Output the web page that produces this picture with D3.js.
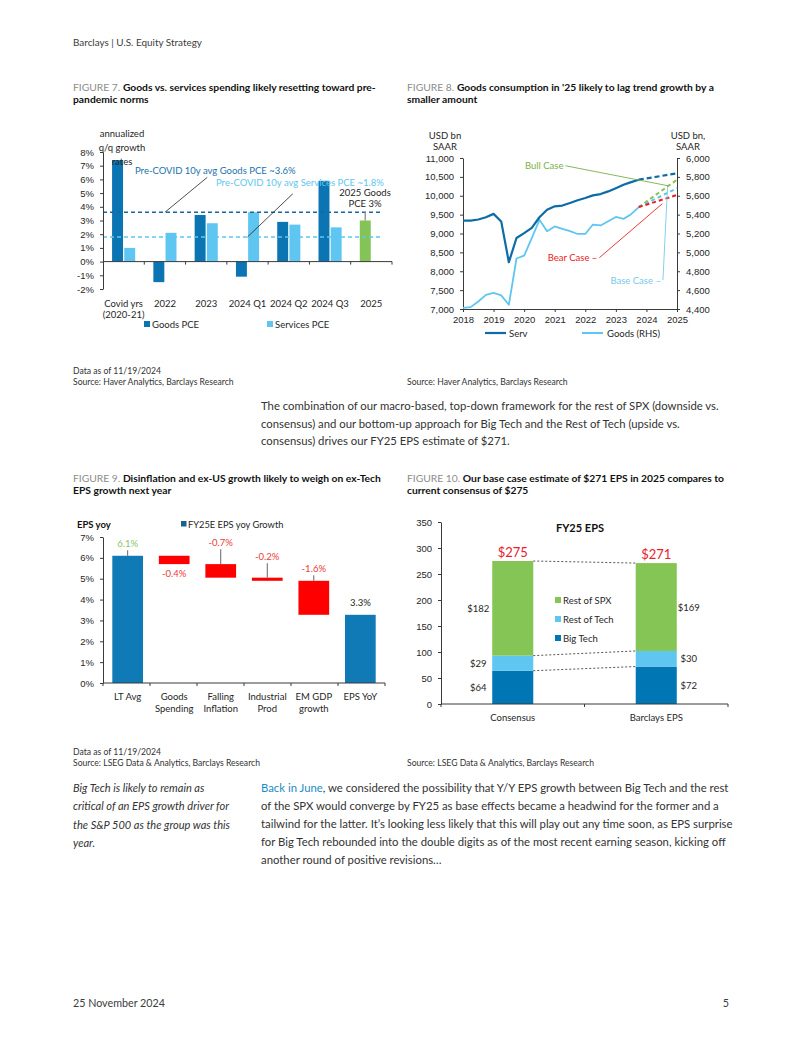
<!DOCTYPE html>
<html><head><meta charset="utf-8">
<script src="https://cdn.jsdelivr.net/npm/d3@7/dist/d3.min.js"></script>
<style>
body{margin:0;background:#fff;}
svg{display:block;font-family:Lato,"Open Sans",sans-serif;}
</style></head><body>
<svg id="page" width="802" height="1037"></svg>
<script>
// ---------------- DATA ----------------
// Figure 7
const fig7Categories = ["Covid yrs|(2020-21)", "2022", "2023", "2024 Q1", "2024 Q2", "2024 Q3", "2025"];
const fig7Goods = [7.4, -1.5, 3.4, -1.1, 2.9, 5.9, 3.0];
const fig7Services = [1.0, 2.1, 2.8, 3.6, 2.7, 2.5, null];
const fig7AvgGoods = 3.6;
const fig7AvgServices = 1.8;
const fig7Ticks = [-2, -1, 0, 1, 2, 3, 4, 5, 6, 7, 8];

// Figure 8 (quarterly, decimal year)
const fig8Time = [2018, 2018.25, 2018.5, 2018.75, 2019, 2019.25, 2019.5, 2019.75,
  2020, 2020.25, 2020.5, 2020.75, 2021, 2021.25, 2021.5, 2021.75,
  2022, 2022.25, 2022.5, 2022.75, 2023, 2023.25, 2023.5, 2023.75];
const fig8Serv = [9340, 9340, 9370, 9430, 9520, 9320, 8240, 8880,
  9010, 9150, 9430, 9630, 9720, 9740, 9810, 9880,
  9940, 10010, 10045, 10115, 10200, 10290, 10360, 10425];
const fig8Goods = [4411, 4420, 4480, 4550, 4570, 4545, 4445, 4935,
  4965, 5150, 5345, 5225, 5275, 5250, 5225, 5195,
  5195, 5295, 5285, 5330, 5375, 5355, 5405, 5480];
const fig8ProjTime = [2023.75, 2025];
const fig8ServProj = [10425, 10595];
const fig8BullProj = [5480, 5770];
const fig8BaseProj = [5480, 5680];
const fig8BearProj = [5480, 5608];
const fig8YearTicks = [2018, 2019, 2020, 2021, 2022, 2023, 2024, 2025];
const fig8LeftTicks = [7000, 7500, 8000, 8500, 9000, 9500, 10000, 10500, 11000];
const fig8RightTicks = [4400, 4600, 4800, 5000, 5200, 5400, 5600, 5800, 6000];

// Figure 9 (waterfall)
const fig9Categories = ["LT Avg", "Goods|Spending", "Falling|Inflation", "Industrial|Prod", "EM GDP|growth", "EPS YoY"];
const fig9From = [0, 6.1, 5.7, 5.05, 4.9, 0];
const fig9To = [6.1, 5.7, 5.05, 4.9, 3.27, 3.27];
const fig9Labels = ["6.1%", "-0.4%", "-0.7%", "-0.2%", "-1.6%", "3.3%"];
const fig9Ticks = [0, 1, 2, 3, 4, 5, 6, 7];

// Figure 10 (stacked)
const fig10Categories = ["Consensus", "Barclays EPS"];
const fig10BigTech = [64, 72];
const fig10RestTech = [29, 30];
const fig10RestSPX = [182, 169];
const fig10Ticks = [0, 50, 100, 150, 200, 250, 300, 350];

// ---------------- STYLE ----------------
const C = {
  dark: "#0b74b2", light: "#5ec6f0", green: "#84c456", red: "#ff1a1a",
  txt: "#262626", axis: "#3a3a3a", gray: "#8a8a8a"
};
const svg = d3.select("#page");
svg.append("rect").attr("width", 802).attr("height", 1037).attr("fill", "#fff");

function fit(str, target, weight = "normal", style = "normal", base = 12) {
  const t = svg.append("text").attr("font-size", base).attr("font-weight", weight)
    .attr("font-style", style).text(str);
  const w = t.node().getComputedTextLength();
  t.remove();
  return base * target / w;
}
function txt(g, x, y, s, o = {}) {
  return g.append("text").attr("x", x).attr("y", y).text(s)
    .attr("font-size", o.size || 9.5).attr("fill", o.fill || C.txt)
    .attr("text-anchor", o.anchor || "start")
    .attr("font-weight", o.weight || "normal")
    .attr("font-style", o.style || "normal");
}

// ---------------- PAGE TEXT ----------------
const headerSize = fit("Barclays | U.S. Equity Strategy", 129);
txt(svg, 73, 45.5, "Barclays | U.S. Equity Strategy", { size: headerSize, fill: "#3c3c3c" });
const footSize = fit("25 November 2024", 92);
txt(svg, 73, 1007, "25 November 2024", { size: footSize, fill: "#3c3c3c" });
txt(svg, 729, 1007, "5", { size: footSize, fill: "#3c3c3c", anchor: "end" });

// title font size from fig 7 first line
function titleWidth(size) {
  const t = svg.append("text").attr("font-size", size);
  t.append("tspan").text("FIGURE 7. ");
  t.append("tspan").attr("font-weight", "bold").text("Goods vs. services spending likely resetting toward pre-");
  const w = t.node().getComputedTextLength(); t.remove(); return w;
}
const titleSize = 12 * 303 / titleWidth(12);
function title(x, y, fig, l1, l2) {
  const t = svg.append("text").attr("x", x).attr("y", y).attr("font-size", titleSize).attr("fill", "#111");
  t.append("tspan").attr("fill", "#8c8c8c").text(fig + " ");
  t.append("tspan").attr("font-weight", "bold").text(l1);
  txt(svg, x, y + 12.8, l2, { size: titleSize, weight: "bold", fill: "#111" });
}
title(73, 90.5, "FIGURE 7.", "Goods vs. services spending likely resetting toward pre-", "pandemic norms");
title(407, 90.5, "FIGURE 8.", "Goods consumption in '25 likely to lag trend growth by a", "smaller amount");
title(73, 481.5, "FIGURE 9.", "Disinflation and ex-US growth likely to weigh on ex-Tech", "EPS growth next year");
title(407, 481.5, "FIGURE 10.", "Our base case estimate of $271 EPS in 2025 compares to", "current consensus of $275");

const noteSize = fit("Source: Haver Analytics, Barclays Research", 161);
txt(svg, 73, 374, "Data as of 11/19/2024", { size: noteSize, fill: "#333" });
txt(svg, 73, 385, "Source: Haver Analytics, Barclays Research", { size: noteSize, fill: "#333" });
txt(svg, 407, 385, "Source: Haver Analytics, Barclays Research", { size: noteSize, fill: "#333" });
txt(svg, 73, 754.5, "Data as of 11/19/2024", { size: noteSize, fill: "#333" });
txt(svg, 73, 766, "Source: LSEG Data & Analytics, Barclays Research", { size: noteSize, fill: "#333" });
txt(svg, 407, 766, "Source: LSEG Data & Analytics, Barclays Research", { size: noteSize, fill: "#333" });

const bodySize = fit("The combination of our macro-based, top-down framework for the rest of SPX (downside vs.", 458);
const body1 = ["The combination of our macro-based, top-down framework for the rest of SPX (downside vs.",
  "consensus) and our bottom-up approach for Big Tech and the Rest of Tech (upside vs.",
  "consensus) drives our FY25 EPS estimate of $271."];
body1.forEach((s, i) => txt(svg, 261, 410 + i * 17.6, s, { size: bodySize, fill: "#333" }));

const body2 = ["of the SPX would converge by FY25 as base effects became a headwind for the former and a",
  "tailwind for the latter. It\u2019s looking less likely that this will play out any time soon, as EPS surprise",
  "for Big Tech rebounded into the double digits as of the most recent earning season, kicking off",
  "another round of positive revisions\u2026"];
{
  const t = svg.append("text").attr("x", 261).attr("y", 792).attr("font-size", bodySize).attr("fill", "#333");
  t.append("tspan").attr("fill", "#1b8cc6").text("Back in June");
  t.append("tspan").text(", we considered the possibility that Y/Y EPS growth between Big Tech and the rest");
  body2.forEach((s, i) => txt(svg, 261, 792 + (i + 1) * 18, s, { size: bodySize, fill: "#333" }));
}
const itSize = fit("critical of an EPS growth driver for", 156, "normal", "italic");
["Big Tech is likely to remain as", "critical of an EPS growth driver for", "the S&P 500 as the group was this", "year."]
  .forEach((s, i) => txt(svg, 73, 792 + i * 18.3, s, { size: itSize, style: "italic", fill: "#333" }));

// ---------------- FIGURE 7 ----------------
{
  const g = svg.append("g");
  const x = d3.scaleBand().domain(fig7Categories).range([103, 392]);
  const y = d3.scaleLinear().domain([-2, 8]).range([289, 152]);
  const bw = x.bandwidth();
  const sub = d3.scaleBand().domain(["Goods", "Services"]).range([bw * 0.22, bw * 0.78]).paddingInner(0.1);

  const rows = fig7Categories.map((c, i) => ({ c, g: fig7Goods[i], s: fig7Services[i], last: i === fig7Categories.length - 1 }));
  g.selectAll(".gb").data(rows).join("rect")
    .attr("x", d => x(d.c) + sub("Goods")).attr("width", sub.bandwidth())
    .attr("y", d => y(Math.max(0, d.g))).attr("height", d => Math.abs(y(d.g) - y(0)))
    .attr("fill", d => d.last ? C.green : C.dark);
  g.selectAll(".sb").data(rows.filter(d => d.s != null)).join("rect")
    .attr("x", d => x(d.c) + sub("Services")).attr("width", sub.bandwidth())
    .attr("y", d => y(Math.max(0, d.s))).attr("height", d => Math.abs(y(d.s) - y(0)))
    .attr("fill", C.light);

  // average lines
  const xEnd = x("2025") + bw * 0.75;
  g.append("line").attr("x1", 103).attr("x2", xEnd).attr("y1", y(fig7AvgGoods)).attr("y2", y(fig7AvgGoods))
    .attr("stroke", "#1767a0").attr("stroke-width", 1.6).attr("stroke-dasharray", "4,3");
  g.append("line").attr("x1", 103).attr("x2", xEnd).attr("y1", y(fig7AvgServices)).attr("y2", y(fig7AvgServices))
    .attr("stroke", C.light).attr("stroke-width", 1.6).attr("stroke-dasharray", "4,3");

  // y axis
  const ya = g.append("g").attr("transform", "translate(103,0)")
    .call(d3.axisLeft(y).tickValues(fig7Ticks).tickFormat(d => d + "%").tickSize(3).tickSizeOuter(0).tickPadding(6));
  ya.selectAll("text").attr("font-size", 9.5).attr("fill", C.txt).attr("font-family", null);
  ya.selectAll("line,path").attr("stroke", C.axis);
  // x axis at zero
  g.append("line").attr("x1", 103).attr("x2", 392).attr("y1", y(0)).attr("y2", y(0)).attr("stroke", C.axis);
  g.selectAll(".xt").data(fig7Categories.slice(1).concat(["end"])).join("line")
    .attr("x1", d => d === "end" ? 392 : x(d)).attr("x2", d => d === "end" ? 392 : x(d))
    .attr("y1", y(0)).attr("y2", y(0) + 3).attr("stroke", C.axis);
  fig7Categories.forEach(c => {
    c.split("|").forEach((s, j) => txt(g, x(c) + bw / 2, 306.5 + j * 11.3, s, { anchor: "middle" }));
  });

  // annotations
  ["annualized", "q/q growth", "rates"].forEach((s, i) => txt(g, 122, 136.5 + i * 14, s, { anchor: "middle" }));
  txt(g, 135, 173.5, "Pre-COVID 10y avg Goods PCE ~3.6%", { fill: "#1a72ad" });
  txt(g, 216, 185.5, "Pre-COVID 10y avg Services PCE ~1.8%", { fill: C.light });
  g.append("line").attr("x1", x("2022") + bw / 2).attr("y1", y(fig7AvgGoods))
    .attr("x2", x("2023") + bw / 2 + 1).attr("y2", y(6.15)).attr("stroke", "#222").attr("stroke-width", 0.8);
  g.append("line").attr("x1", x("2024 Q1") + bw / 2).attr("y1", y(fig7AvgServices))
    .attr("x2", x("2024 Q2") + bw / 2 + 4).attr("y2", y(4.95)).attr("stroke", "#222").attr("stroke-width", 0.8);
  const gx = x("2025") + sub("Goods") + sub.bandwidth() / 2;
  g.append("line").attr("x1", gx).attr("x2", gx).attr("y1", y(fig7AvgGoods)).attr("y2", y(fig7Goods[6]))
    .attr("stroke", "#999").attr("stroke-width", 1.5);
  txt(g, 365, 195.5, "2025 Goods", { anchor: "middle" });
  txt(g, 365, 206.5, "PCE 3%", { anchor: "middle" });

  // legend
  g.append("rect").attr("x", 144).attr("y", 321).attr("width", 6).attr("height", 6).attr("fill", C.dark);
  txt(g, 152, 327.5, "Goods PCE");
  g.append("rect").attr("x", 267).attr("y", 321).attr("width", 6).attr("height", 6).attr("fill", C.light);
  txt(g, 275, 327.5, "Services PCE");
}

// ---------------- FIGURE 8 ----------------
{
  const g = svg.append("g");
  const x = d3.scaleLinear().domain([2018, 2025]).range([463, 677]);
  const yl = d3.scaleLinear().domain([7000, 11000]).range([309, 158]);
  const yr = d3.scaleLinear().domain([4400, 6000]).range([309, 158]);

  const la = g.append("g").attr("transform", "translate(463,0)")
    .call(d3.axisLeft(yl).tickValues(fig8LeftTicks).tickFormat(d3.format(",")).tickSize(3).tickSizeOuter(0).tickPadding(6));
  const ra = g.append("g").attr("transform", "translate(677,0)")
    .call(d3.axisRight(yr).tickValues(fig8RightTicks).tickFormat(d3.format(",")).tickSize(3).tickSizeOuter(0).tickPadding(6));
  const xa = g.append("g").attr("transform", "translate(0,309)")
    .call(d3.axisBottom(x).tickValues(fig8YearTicks).tickFormat(d3.format("d")).tickSize(3).tickSizeOuter(0).tickPadding(4));
  [la, ra, xa].forEach(a => {
    a.selectAll("text").attr("font-size", 9.5).attr("fill", C.txt).attr("font-family", null);
    a.selectAll("line,path").attr("stroke", C.axis);
  });

  const pts = (t, v) => t.map((d, i) => [d, v[i]]);
  const lineL = d3.line().x(d => x(d[0])).y(d => yl(d[1]));
  const lineR = d3.line().x(d => x(d[0])).y(d => yr(d[1]));

  g.append("path").attr("d", lineR(pts(fig8Time, fig8Goods))).attr("fill", "none")
    .attr("stroke", C.light).attr("stroke-width", 1.8).attr("stroke-linejoin", "round");
  g.append("path").attr("d", lineL(pts(fig8Time, fig8Serv))).attr("fill", "none")
    .attr("stroke", "#0d6ca8").attr("stroke-width", 2.2).attr("stroke-linejoin", "round");

  g.append("path").attr("d", lineL(pts(fig8ProjTime, fig8ServProj))).attr("fill", "none")
    .attr("stroke", "#0d6ca8").attr("stroke-width", 2.2).attr("stroke-dasharray", "5,3");
  [[fig8BullProj, "#8cc152"], [fig8BaseProj, C.light], [fig8BearProj, "#ee1c1c"]].forEach(([v, col]) => {
    g.append("path").attr("d", lineR(pts(fig8ProjTime, v))).attr("fill", "none")
      .attr("stroke", col).attr("stroke-width", 2).attr("stroke-dasharray", "4,3");
  });

  // annotations (data coords: year, left-axis value)
  const ann = (t, v, x2, v2, label, col, lineCol) => {
    txt(g, x(t) - 2, yl(v) + 3.5, label, { anchor: "end", fill: col, size: 9.5 });
    g.append("line").attr("x1", x(t)).attr("y1", yl(v)).attr("x2", x(x2)).attr("y2", yl(v2))
      .attr("stroke", lineCol).attr("stroke-width", 0.9);
  };
  ann(2021.35, 10795, 2024.70, 10266, "Bull Case", "#7bb046", "#7bb046");
  ann(2022.46, 8359, 2024.52, 9790, "Bear Case \u2013", "#ee2222", "#ee2222");
  ann(2024.54, 7765, 2024.69, 10227, "Base Case \u2013", "#79c9ee", "#79c9ee");

  ["USD bn", "SAAR"].forEach((s, i) => txt(g, 445, 138.5 + i * 11, s, { anchor: "middle" }));
  ["USD bn,", "SAAR"].forEach((s, i) => txt(g, 688, 138.5 + i * 11, s, { anchor: "middle" }));

  g.append("line").attr("x1", 485).attr("x2", 506).attr("y1", 333).attr("y2", 333).attr("stroke", "#0d6ca8").attr("stroke-width", 2.2);
  txt(g, 509, 336.5, "Serv");
  g.append("line").attr("x1", 582).attr("x2", 603).attr("y1", 333).attr("y2", 333).attr("stroke", C.light).attr("stroke-width", 2);
  txt(g, 607, 336.5, "Goods (RHS)");
}

// ---------------- FIGURE 9 ----------------
{
  const g = svg.append("g");
  const x = d3.scaleBand().domain(fig9Categories).range([103, 385]).paddingInner(0.34).paddingOuter(0.2);
  const y = d3.scaleLinear().domain([0, 7]).range([683, 537]);
  const rows = fig9Categories.map((c, i) => ({ c, a: fig9From[i], b: fig9To[i], lab: fig9Labels[i], i }));
  const isTotal = d => d.a === 0;

  g.selectAll(".b").data(rows).join("rect")
    .attr("x", d => x(d.c)).attr("width", x.bandwidth())
    .attr("y", d => y(Math.max(d.a, d.b))).attr("height", d => Math.abs(y(d.a) - y(d.b)))
    .attr("fill", d => isTotal(d) ? "#0f7ab5" : "#ff0000");

  const ya = g.append("g").attr("transform", "translate(103,0)")
    .call(d3.axisLeft(y).tickValues(fig9Ticks).tickFormat(d => d + "%").tickSize(3).tickSizeOuter(0).tickPadding(6));
  ya.selectAll("text").attr("font-size", 9.5).attr("fill", C.txt).attr("font-family", null);
  ya.selectAll("line,path").attr("stroke", C.axis);
  g.append("line").attr("x1", 103).attr("x2", 385).attr("y1", 683).attr("y2", 683).attr("stroke", C.axis);
  const step = x.step();
  d3.range(fig9Categories.length + 1).forEach(i => {
    const xx = 103 + i * (282 / fig9Categories.length);
    g.append("line").attr("x1", xx).attr("x2", xx).attr("y1", 683).attr("y2", 686).attr("stroke", C.axis);
  });
  fig9Categories.forEach(c => c.split("|").forEach((s, j) =>
    txt(g, x(c) + x.bandwidth() / 2, 699.5 + j * 12, s, { anchor: "middle" })));

  // value labels: [value-position of label centre, has leader line]
  const labelAt = [6.7, 5.26, 6.75, 6.08, 5.5, 3.88];
  const leader = [true, false, true, true, true, false];
  const labCol = ["#8cc46b", "#ee3a3a", "#ee3a3a", "#ee3a3a", "#ee3a3a", C.txt];
  rows.forEach((d, i) => {
    const cx = x(d.c) + x.bandwidth() / 2;
    txt(g, cx, y(labelAt[i]) + 3.5, d.lab, { anchor: "middle", fill: labCol[i] });
    if (leader[i]) {
      g.append("line").attr("x1", cx).attr("x2", cx).attr("y1", y(labelAt[i]) + 7)
        .attr("y2", y(Math.max(d.a, d.b))).attr("stroke", "#666").attr("stroke-width", 1);
    }
  });

  txt(g, 77, 527.5, "EPS yoy", { weight: "bold", fill: "#111" });
  g.append("rect").attr("x", 181).attr("y", 521).attr("width", 5.5).attr("height", 5.5).attr("fill", "#1a6193");
  txt(g, 188, 527.5, "FY25E EPS yoy Growth", { size: 9.3 });
}

// ---------------- FIGURE 10 ----------------
{
  const g = svg.append("g");
  const x = d3.scaleBand().domain(fig10Categories).range([441, 728]).paddingInner(0.714).paddingOuter(0.357);
  const y = d3.scaleLinear().domain([0, 350]).range([704, 522]);
  const keys = ["Big Tech", "Rest of Tech", "Rest of SPX"];
  const cols = { "Big Tech": "#0077b5", "Rest of Tech": "#5ec6f0", "Rest of SPX": "#85c556" };
  const table = fig10Categories.map((c, i) => ({ cat: c, "Big Tech": fig10BigTech[i], "Rest of Tech": fig10RestTech[i], "Rest of SPX": fig10RestSPX[i] }));
  const stack = d3.stack().keys(keys)(table);

  stack.forEach(s => {
    g.selectAll(null).data(s).join("rect")
      .attr("x", d => x(d.data.cat)).attr("width", x.bandwidth())
      .attr("y", d => y(d[1])).attr("height", d => y(d[0]) - y(d[1]))
      .attr("fill", cols[s.key]);
  });
  // connectors
  const c0 = fig10Categories[0], c1 = fig10Categories[1];
  stack.forEach(s => {
    if (s.key === "Rest of SPX" || s.key === "Big Tech" || s.key === "Rest of Tech") {
      g.append("line").attr("x1", x(c0) + x.bandwidth()).attr("y1", y(s[0][1]))
        .attr("x2", x(c1)).attr("y2", y(s[1][1]))
        .attr("stroke", "#555").attr("stroke-width", 1).attr("stroke-dasharray", "2,2");
    }
  });
  // segment labels
  stack.forEach(s => s.forEach((d, i) => {
    const xx = i === 0 ? x(d.data.cat) - 14 : x(d.data.cat) + x.bandwidth() + 12;
    txt(g, xx, (y(d[0]) + y(d[1])) / 2 + 3.5, "$" + (d[1] - d[0]), { anchor: "middle" });
  }));
  // totals
  const top = stack[stack.length - 1];
  top.forEach(d => txt(g, x(d.data.cat) + x.bandwidth() / 2, y(d[1]) - 4, "$" + d[1], { anchor: "middle", fill: "#e8202a", size: 13 }));

  const ya = g.append("g").attr("transform", "translate(441,0)")
    .call(d3.axisLeft(y).tickValues(fig10Ticks).tickSize(3).tickSizeOuter(0).tickPadding(6));
  ya.selectAll("text").attr("font-size", 9.5).attr("fill", C.txt).attr("font-family", null);
  ya.selectAll("line,path").attr("stroke", C.axis);
  g.append("line").attr("x1", 441).attr("x2", 728).attr("y1", 704).attr("y2", 704).attr("stroke", C.axis);
  [441, 584.5, 728].forEach(xx => g.append("line").attr("x1", xx).attr("x2", xx).attr("y1", 704).attr("y2", 707).attr("stroke", C.axis));
  fig10Categories.forEach(c => txt(g, x(c) + x.bandwidth() / 2, 720.5, c, { anchor: "middle" }));

  txt(g, 580, 532, "FY25 EPS", { anchor: "middle", weight: "bold", size: 11, fill: "#111" });
  ["Rest of SPX", "Rest of Tech", "Big Tech"].forEach((k, i) => {
    g.append("rect").attr("x", 555).attr("y", 597 + i * 19).attr("width", 6).attr("height", 6).attr("fill", cols[k]);
    txt(g, 563, 603.5 + i * 19, k);
  });
}
</script>
</body></html>
